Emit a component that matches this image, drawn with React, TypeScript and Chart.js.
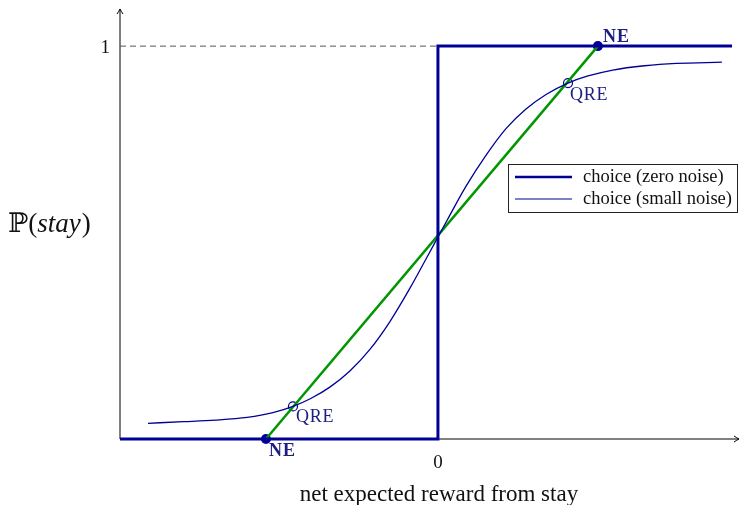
import React, { useEffect, useRef } from "react";
import { Chart, registerables } from "chart.js";

Chart.register(...registerables);

// smooth choice curve (small noise)
const curveX = [-0.912, -0.8, -0.7, -0.6, -0.519, -0.456, -0.4, -0.34, -0.277, -0.214, -0.151, -0.088, -0.035, 0, 0.035, 0.088, 0.151, 0.214, 0.277, 0.34, 0.409, 0.472, 0.55, 0.65, 0.75, 0.893];
const curveY = [0.04, 0.044, 0.048, 0.055, 0.067, 0.083, 0.103, 0.132, 0.173, 0.228, 0.299, 0.384, 0.462, 0.514, 0.566, 0.643, 0.722, 0.79, 0.84, 0.877, 0.906, 0.924, 0.939, 0.95, 0.956, 0.959];
// step choice (zero noise)
const stepX = [-1, 0, 0, 0.925];
const stepY = [0, 0, 1, 1];
// green best-response line
const greenX = [-0.541, 0.503];
const greenY = [0, 1];
// equilibria
const neX = [-0.541, 0.503];
const neY = [0, 1];
const qreX = [-0.456, 0.409];
const qreY = [0.083, 0.906];
// dashed guide at y = 1
const dashX = [-1, 0];
const dashY = [1, 1];
// ticks
const xTickValues = [0];
const xTickLabels = ["0"];
const yTickValues = [1];
const yTickLabels = ["1"];
const legendLabels = ["choice (zero noise)", "choice (small noise)"];
const xTitle = "net expected reward from stay";

const NAVY = "rgb(0,0,150)";
const LABEL = "rgb(30,30,130)";
const GREEN = "rgb(0,150,0)";
const SERIF = '"Liberation Serif", "DejaVu Serif", serif';

const pts = (xs: number[], ys: number[]) => xs.map((x, i) => ({ x, y: ys[i] }));

const overlay = {
  id: "overlay",
  beforeDatasetsDraw(chart: any) {
    const { ctx, chartArea } = chart;
    const xs = chart.scales.x;
    const ys = chart.scales.y;
    const x0 = xs.getPixelForValue(-1);
    const y0 = ys.getPixelForValue(0);
    ctx.save();
    ctx.strokeStyle = "#000";
    ctx.lineWidth = 1;
    ctx.beginPath();
    ctx.moveTo(x0, y0);
    ctx.lineTo(chartArea.right - 1, y0);
    ctx.moveTo(x0, y0);
    ctx.lineTo(x0, chartArea.top + 1);
    ctx.stroke();
    const r = chartArea.right - 1;
    const t = chartArea.top + 1;
    ctx.beginPath();
    ctx.moveTo(r - 5, y0 - 3);
    ctx.quadraticCurveTo(r - 2, y0 - 1, r, y0);
    ctx.quadraticCurveTo(r - 2, y0 + 1, r - 5, y0 + 3);
    ctx.moveTo(x0 - 3, t + 5);
    ctx.quadraticCurveTo(x0 - 1, t + 2, x0, t);
    ctx.quadraticCurveTo(x0 + 1, t + 2, x0 + 3, t + 5);
    ctx.stroke();
    ctx.restore();
  },
  afterDatasetsDraw(chart: any) {
    const { ctx } = chart;
    const xs = chart.scales.x;
    const ys = chart.scales.y;
    const x0 = xs.getPixelForValue(-1);
    const y0 = ys.getPixelForValue(0);
    ctx.save();
    ctx.fillStyle = "#111";
    ctx.font = `19px ${SERIF}`;
    ctx.textBaseline = "alphabetic";
    ctx.textAlign = "right";
    yTickValues.forEach((v, i) => {
      ctx.fillText(yTickLabels[i], x0 - 10, ys.getPixelForValue(v) + 7);
    });
    ctx.textAlign = "center";
    xTickValues.forEach((v, i) => {
      ctx.fillText(xTickLabels[i], xs.getPixelForValue(v), y0 + 29);
    });
    ctx.font = `23px ${SERIF}`;
    ctx.fillText(xTitle, xs.getPixelForValue(0) + 1, y0 + 62);

    // y title: P(stay)
    ctx.textAlign = "left";
    let px = 8;
    const base = 232;
    ctx.font = `27px ${SERIF}`;
    ctx.fillText("\u2119(", px, base);
    px += ctx.measureText("\u2119(").width;
    ctx.font = `italic 27px ${SERIF}`;
    ctx.fillText("stay", px, base);
    px += ctx.measureText("stay").width + 1;
    ctx.font = `27px ${SERIF}`;
    ctx.fillText(")", px, base);

    // point labels
    ctx.fillStyle = LABEL;
    ctx.font = `bold 18px ${SERIF}`;
    (ctx as any).letterSpacing = "1px";
    ctx.fillText("NE", xs.getPixelForValue(neX[0]) + 3, ys.getPixelForValue(neY[0]) + 17);
    ctx.fillText("NE", xs.getPixelForValue(neX[1]) + 5, ys.getPixelForValue(neY[1]) - 4);
    ctx.font = `18px ${SERIF}`;
    (ctx as any).letterSpacing = "0.8px";
    ctx.fillText("QRE", xs.getPixelForValue(qreX[0]) + 3, ys.getPixelForValue(qreY[0]) + 16);
    ctx.fillText("QRE", xs.getPixelForValue(qreX[1]) + 2, ys.getPixelForValue(qreY[1]) + 17);
    (ctx as any).letterSpacing = "0px";

    // legend
    const bx = 508, by = 164, bw = 229, bh = 48;
    ctx.fillStyle = "#fff";
    ctx.fillRect(bx, by, bw, bh);
    ctx.strokeStyle = "#222";
    ctx.lineWidth = 1;
    ctx.strokeRect(bx + 0.5, by + 0.5, bw, bh);
    const rows = [177, 199];
    const widths = [2.5, 1.2];
    rows.forEach((ry, i) => {
      ctx.strokeStyle = NAVY;
      ctx.lineWidth = widths[i];
      ctx.beginPath();
      ctx.moveTo(515, ry);
      ctx.lineTo(572, ry);
      ctx.stroke();
      ctx.fillStyle = "#111";
      ctx.font = `18.5px ${SERIF}`;
      ctx.fillText(legendLabels[i], 583, ry + 5);
    });
    ctx.restore();
  },
};

export default function App() {
  const ref = useRef<HTMLCanvasElement | null>(null);
  useEffect(() => {
    if (!ref.current) return;
    const chart = new Chart(ref.current, {
      type: "scatter",
      data: {
        datasets: [
          {
            label: "guide",
            data: pts(dashX, dashY),
            showLine: true,
            borderColor: "#555",
            borderWidth: 1,
            borderDash: [6, 4],
            pointRadius: 0,
            clip: false as any,
          },
          {
            label: legendLabels[0],
            data: pts(stepX, stepY),
            showLine: true,
            borderColor: NAVY,
            borderWidth: 3,
            pointRadius: 0,
            clip: false as any,
          },
          {
            label: legendLabels[1],
            data: pts(curveX, curveY),
            showLine: true,
            borderColor: NAVY,
            borderWidth: 1.3,
            pointRadius: 0,
            cubicInterpolationMode: "monotone",
            clip: false as any,
          },
          {
            label: "best response",
            data: pts(greenX, greenY),
            showLine: true,
            borderColor: GREEN,
            borderWidth: 2.5,
            pointRadius: 0,
            clip: false as any,
          },
          {
            label: "QRE",
            data: pts(qreX, qreY),
            showLine: false,
            pointRadius: 4.5,
            pointBackgroundColor: "rgba(255,255,255,0)",
            pointBorderColor: NAVY,
            pointBorderWidth: 1.2,
            clip: false as any,
          },
          {
            label: "NE",
            data: pts(neX, neY),
            showLine: false,
            pointRadius: 5,
            pointBackgroundColor: NAVY,
            pointBorderColor: NAVY,
            pointBorderWidth: 0,
            clip: false as any,
          },
        ],
      },
      options: {
        animation: false,
        responsive: false,
        maintainAspectRatio: false,
        layout: { autoPadding: false, padding: { left: 120, right: 2, top: 8, bottom: 66 } },
        plugins: { legend: { display: false }, tooltip: { enabled: false } },
        scales: {
          x: { type: "linear", min: -1, max: 0.95, display: false },
          y: { type: "linear", min: 0, max: 1.097, display: false },
        },
      },
      plugins: [overlay],
    });
    return () => chart.destroy();
  }, []);
  return (
    <div style={{ position: "absolute", left: 0, top: 0, width: 742, height: 505, background: "#fff" }}>
      <canvas ref={ref} width={742} height={505} style={{ width: 742, height: 505, display: "block" }} />
    </div>
  );
}
